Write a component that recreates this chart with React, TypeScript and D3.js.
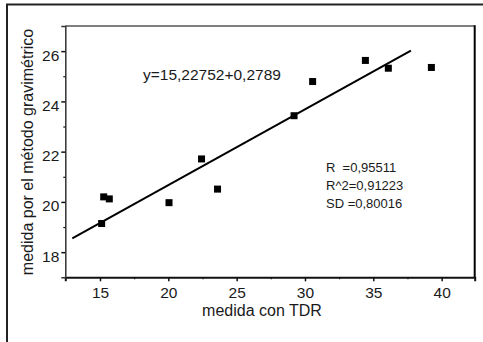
import React, { useEffect, useRef } from 'react';
import * as d3 from 'd3';

const tdr = [15.12, 15.27, 15.68, 20.05, 22.43, 23.6, 29.2, 30.56, 34.42, 36.1, 39.25];
const gravimetric = [19.14, 20.2, 20.12, 19.97, 21.71, 20.51, 23.43, 24.79, 25.63, 25.32, 25.35];

// fitted line end points as drawn
const fitX = [12.97, 37.75];
const fitY = [18.55, 26.02];

const xMajor = [15, 20, 25, 30, 35, 40];
const xMinor = [17.5, 22.5, 27.5, 32.5, 37.5];
const yMajor = [18, 20, 22, 24, 26];
const yMinor = [19, 21, 23, 25];

const equation = 'y=15,22752+0,2789';
const stats = ['R  =0,95511', 'R^2=0,91223', 'SD =0,80016'];

const xTitle = 'medida con TDR';
const yTitle = 'medida por el método gravimétrico';

const W = 483;
const H = 342;
const FONT = '"Liberation Sans", Arial, sans-serif';

const App = () => {
  const svgRef = useRef<SVGSVGElement>(null);

  useEffect(() => {
    const svg = d3.select(svgRef.current);
    svg.selectAll('*').remove();

    const left = 65.3, right = 474.7, top = 26, bottom = 277.3;

    const x = d3.scaleLinear().domain([12.46, 42.42]).range([left, right]);
    const y = d3.scaleLinear().domain([17, 27]).range([bottom, top]);

    // outer frame (runs off the picture on the right and bottom)
    svg.append('rect')
      .attr('x', 7).attr('y', 4.5)
      .attr('width', W + 20).attr('height', H + 20)
      .style('fill', 'none')
      .style('stroke', '#222')
      .style('stroke-width', 2);

    // plot box: top and right
    svg.append('line')
      .attr('x1', left).attr('x2', right).attr('y1', top).attr('y2', top)
      .style('stroke', '#555').style('stroke-width', 1.5);
    svg.append('line')
      .attr('x1', right).attr('x2', right).attr('y1', top - 0.75).attr('y2', bottom)
      .style('stroke', '#000').style('stroke-width', 2);

    // x axis
    const gx = svg.append('g').attr('transform', `translate(0,${bottom})`);
    gx.call(d3.axisBottom(x).tickValues(xMajor).tickSize(4).tickPadding(6).tickFormat(d3.format('d')));
    gx.select('.domain').style('stroke', '#111').style('stroke-width', 2);
    gx.selectAll('.tick line').style('stroke', '#111').style('stroke-width', 1.5);
    gx.selectAll('.tick text')
      .style('font-family', FONT).style('font-size', '15.5px').style('fill', '#1a1a1a');
    const gxm = svg.append('g').attr('transform', `translate(0,${bottom})`);
    gxm.call(d3.axisBottom(x).tickValues(xMinor).tickSize(2).tickFormat(() => ''));
    gxm.select('.domain').remove();
    gxm.selectAll('.tick line').style('stroke', '#111').style('stroke-width', 1.2);

    // y axis
    const gy = svg.append('g').attr('transform', `translate(${left},0)`);
    gy.call(d3.axisLeft(y).tickValues(yMajor).tickSize(4).tickPadding(2).tickFormat(d3.format('d')));
    gy.select('.domain').style('stroke', '#333').style('stroke-width', 1.5);
    gy.selectAll('.tick line').style('stroke', '#111').style('stroke-width', 1.5);
    gy.selectAll('.tick text')
      .attr('dy', 9).attr('y', 0)
      .style('font-family', FONT).style('font-size', '15.5px').style('fill', '#1a1a1a');
    const gym = svg.append('g').attr('transform', `translate(${left},0)`);
    gym.call(d3.axisLeft(y).tickValues(yMinor).tickSize(2).tickFormat(() => ''));
    gym.select('.domain').remove();
    gym.selectAll('.tick line').style('stroke', '#111').style('stroke-width', 1.2);

    // regression line
    const line = d3.line<number>().x((d) => x(d)).y((_, i) => y(fitY[i]));
    svg.append('path')
      .attr('d', line(fitX))
      .style('fill', 'none')
      .style('stroke', '#000')
      .style('stroke-width', 2);

    // points
    const s = 7;
    svg.selectAll('rect.pt')
      .data(tdr)
      .enter()
      .append('rect')
      .attr('class', 'pt')
      .attr('x', (d) => x(d) - s / 2)
      .attr('y', (_, i) => y(gravimetric[i]) - s / 2)
      .attr('width', s)
      .attr('height', s)
      .style('fill', '#000');

    // equation
    svg.append('text')
      .attr('x', 143).attr('y', 80)
      .style('font-family', FONT).style('font-size', '15.5px').style('fill', '#1a1a1a')
      .text(equation);

    // stats
    svg.selectAll('text.stat')
      .data(stats)
      .enter()
      .append('text')
      .attr('class', 'stat')
      .attr('x', 326)
      .attr('y', (_, i) => 171.5 + i * 18)
      .style('font-family', FONT).style('font-size', '13px').style('fill', '#1a1a1a')
      .style('white-space', 'pre')
      .text((d) => d);

    // axis titles
    svg.append('text')
      .attr('x', 262).attr('y', 316)
      .attr('text-anchor', 'middle')
      .style('font-family', FONT).style('font-size', '16px').style('fill', '#1a1a1a')
      .text(xTitle);
    svg.append('text')
      .attr('transform', `translate(33,152) rotate(-90)`)
      .attr('text-anchor', 'middle')
      .style('font-family', FONT).style('font-size', '16px').style('fill', '#1a1a1a')
      .text(yTitle);
  }, []);

  return (
    <svg
      ref={svgRef}
      width={W}
      height={H}
      style={{ position: 'absolute', left: 0, top: 0, background: '#fff' }}
    />
  );
};

export default App;
